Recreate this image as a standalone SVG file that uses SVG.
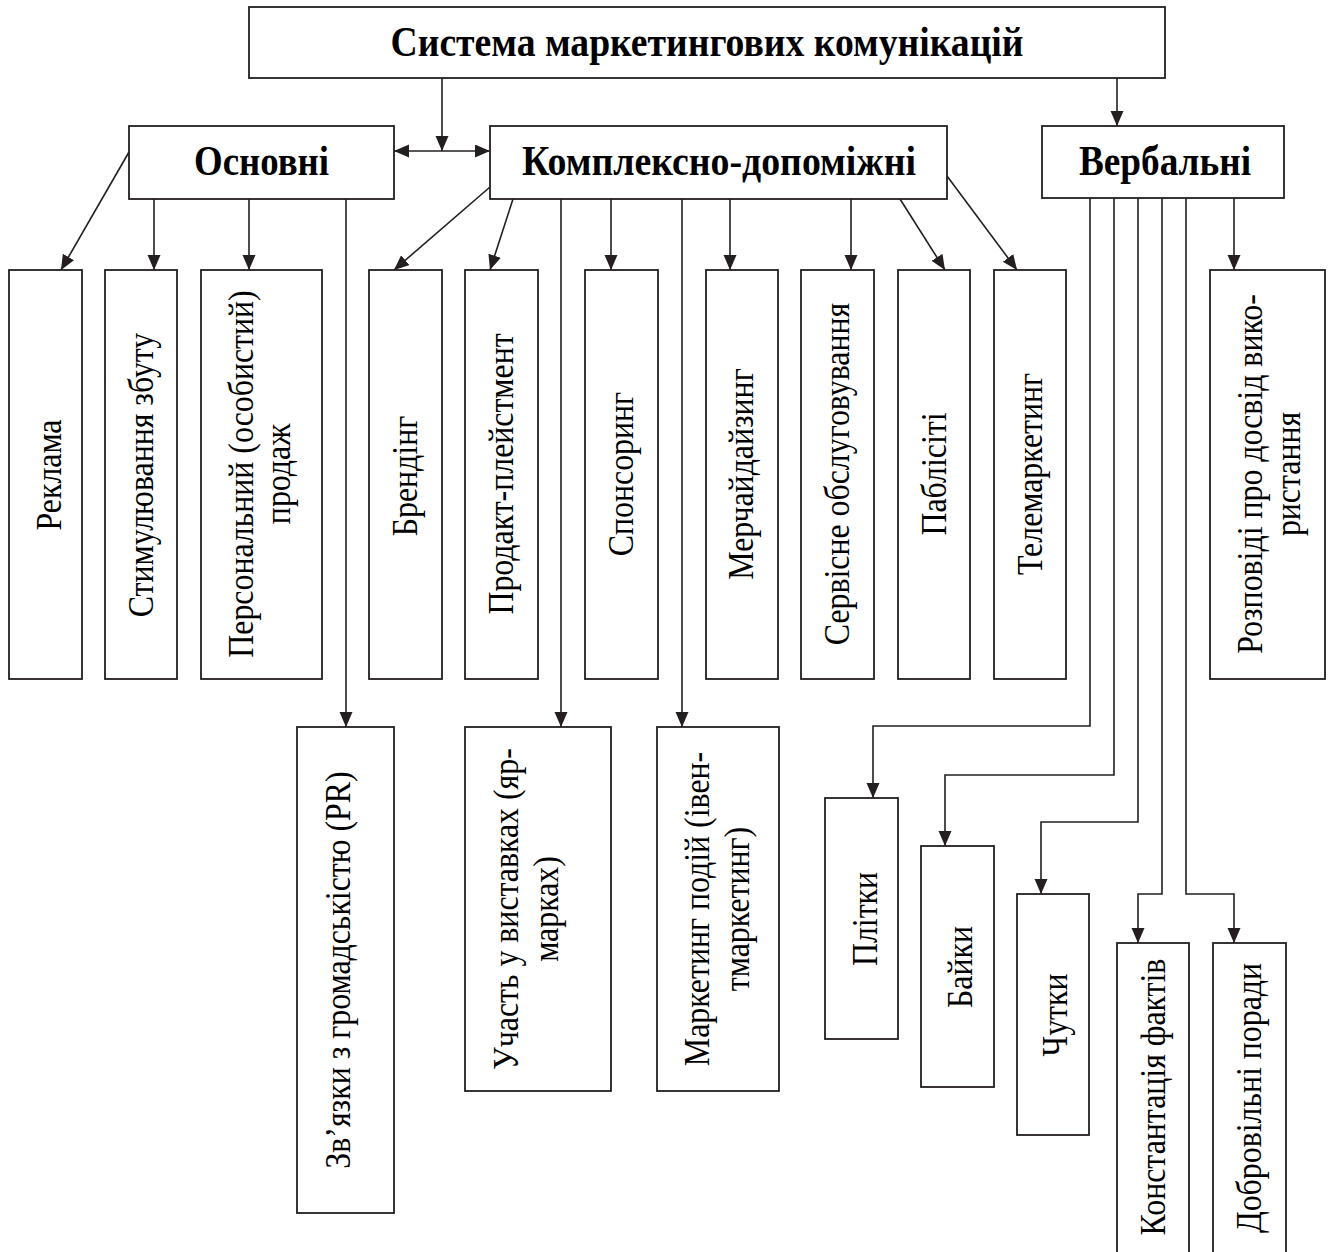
<svg xmlns="http://www.w3.org/2000/svg" width="1336" height="1252" viewBox="0 0 1336 1252">
<defs>
<marker id="ah" markerUnits="userSpaceOnUse" markerWidth="16" markerHeight="14" refX="15" refY="6.5" orient="auto-start-reverse">
<path d="M0,0 L15,6.5 L0,13 z" fill="#231f20"/>
</marker>
</defs>
<style>
rect{fill:#fff;stroke:#231f20;stroke-width:1.8}
rect.bg{stroke:none}
.c{fill:none;stroke:#231f20;stroke-width:1.6}
.a{marker-end:url(#ah)}
.h{font-family:"Liberation Serif","Times New Roman",serif;font-weight:bold;font-size:42px;fill:#000;text-anchor:middle}
.v{font-family:"Liberation Serif","Times New Roman",serif;font-size:35px;fill:#000;text-anchor:middle}
</style>
<rect class="bg" width="1336" height="1252"/>
<g id="connectors">
<path class="c a" d="M442,78 V151"/>
<path class="c" d="M394,151 H490" marker-start="url(#ah)" marker-end="url(#ah)"/>
<path class="c a" d="M1117,78 V126"/>
<path class="c a" d="M129,152 L61,270"/>
<path class="c a" d="M154,199 V270"/>
<path class="c a" d="M249,199 V270"/>
<path class="c a" d="M346,199 V727"/>
<path class="c a" d="M490,187 L394,270"/>
<path class="c a" d="M513,199 L490,270"/>
<path class="c a" d="M561,199 V727"/>
<path class="c a" d="M611,199 V270"/>
<path class="c a" d="M682,199 V727"/>
<path class="c a" d="M730,199 V270"/>
<path class="c a" d="M851,199 V270"/>
<path class="c a" d="M900,199 L945,270"/>
<path class="c a" d="M947,176 L1017,270"/>
<path class="c a" d="M1234,198 V270"/>
<path class="c a" d="M1090,198 V726 H873 V798"/>
<path class="c a" d="M1114,198 V775 H945 V846"/>
<path class="c a" d="M1138,198 V822 H1041 V894"/>
<path class="c a" d="M1162,198 V894 H1138 V943"/>
<path class="c a" d="M1186,198 V894 H1234 V943"/>
</g>
<g id="n-root"><rect x="249" y="7" width="916" height="71"/><text class="h" x="707" y="56" textLength="633" lengthAdjust="spacingAndGlyphs">Система маркетингових комунікацій</text></g>
<g id="n-osnovni"><rect x="129" y="126" width="265" height="73"/><text class="h" x="261.5" y="175" textLength="135" lengthAdjust="spacingAndGlyphs">Основні</text></g>
<g id="n-kompleksno"><rect x="490" y="126" width="457" height="73"/><text class="h" x="719" y="175" textLength="394" lengthAdjust="spacingAndGlyphs">Комплексно-допоміжні</text></g>
<g id="n-verbalni"><rect x="1042" y="126" width="242" height="72"/><text class="h" x="1165" y="175" textLength="172" lengthAdjust="spacingAndGlyphs">Вербальні</text></g>
<g id="n-reklama"><rect x="9" y="270" width="73" height="409"/><text class="v" transform="translate(61,475) rotate(-90) scale(0.91,1)">Реклама</text></g>
<g id="n-stymul"><rect x="105" y="270" width="72" height="409"/><text class="v" transform="translate(153,475) rotate(-90) scale(0.91,1)">Стимулювання збуту</text></g>
<g id="n-person"><rect x="201" y="270" width="121" height="409"/><text class="v" transform="translate(253,474) rotate(-90) scale(0.91,1)"><tspan x="0" y="0">Персональний (особистий)</tspan><tspan x="0" dy="37">продаж</tspan></text></g>
<g id="n-brending"><rect x="369" y="270" width="73" height="409"/><text class="v" transform="translate(417,476) rotate(-90) scale(0.91,1)">Брендінг</text></g>
<g id="n-prodakt"><rect x="465" y="270" width="73" height="409"/><text class="v" transform="translate(513,474) rotate(-90) scale(0.91,1)">Продакт-плейстмент</text></g>
<g id="n-sponsor"><rect x="585" y="270" width="73" height="409"/><text class="v" transform="translate(633,474) rotate(-90) scale(0.91,1)">Спонсоринг</text></g>
<g id="n-merch"><rect x="706" y="270" width="72" height="409"/><text class="v" transform="translate(753,474) rotate(-90) scale(0.91,1)">Мерчайдайзинг</text></g>
<g id="n-servis"><rect x="801" y="270" width="73" height="409"/><text class="v" transform="translate(849,474) rotate(-90) scale(0.91,1)">Сервісне обслуговування</text></g>
<g id="n-publicity"><rect x="898" y="270" width="72" height="409"/><text class="v" transform="translate(946,474) rotate(-90) scale(0.91,1)">Паблісіті</text></g>
<g id="n-tele"><rect x="994" y="270" width="72" height="409"/><text class="v" transform="translate(1042,474) rotate(-90) scale(0.91,1)">Телемаркетинг</text></g>
<g id="n-rozpovidi"><rect x="1210" y="270" width="115" height="409"/><text class="v" transform="translate(1262,474) rotate(-90) scale(0.91,1)"><tspan x="0" y="0">Розповіді про досвід вико-</tspan><tspan x="0" dy="38">ристання</tspan></text></g>
<g id="n-pr"><rect x="297" y="727" width="97" height="486"/><text class="v" transform="translate(350,970) rotate(-90) scale(0.91,1)">Зв’язки з громадськістю (PR)</text></g>
<g id="n-vystavky"><rect x="465" y="727" width="146" height="364"/><text class="v" transform="translate(518,909) rotate(-90) scale(0.91,1)"><tspan x="0" y="0">Участь у виставках (яр-</tspan><tspan x="0" dy="40">марках)</tspan></text></g>
<g id="n-event"><rect x="657" y="727" width="122" height="364"/><text class="v" transform="translate(709,909) rotate(-90) scale(0.91,1)"><tspan x="0" y="0">Маркетинг подій (івен-</tspan><tspan x="0" dy="40">тмаркетинг)</tspan></text></g>
<g id="n-plitky"><rect x="825" y="798" width="73" height="241"/><text class="v" transform="translate(877,919) rotate(-90) scale(0.91,1)">Плітки</text></g>
<g id="n-bayky"><rect x="921" y="846" width="73" height="241"/><text class="v" transform="translate(972,967) rotate(-90) scale(0.91,1)">Байки</text></g>
<g id="n-chutky"><rect x="1017" y="894" width="72" height="241"/><text class="v" transform="translate(1067,1015) rotate(-90) scale(0.91,1)">Чутки</text></g>
<g id="n-konst"><rect x="1117" y="943" width="72" height="330"/><text class="v" transform="translate(1165,1097) rotate(-90) scale(0.91,1)">Константація фактів</text></g>
<g id="n-dobro"><rect x="1213" y="943" width="73" height="330"/><text class="v" transform="translate(1261,1098) rotate(-90) scale(0.91,1)">Добровільні поради</text></g>
</svg>
